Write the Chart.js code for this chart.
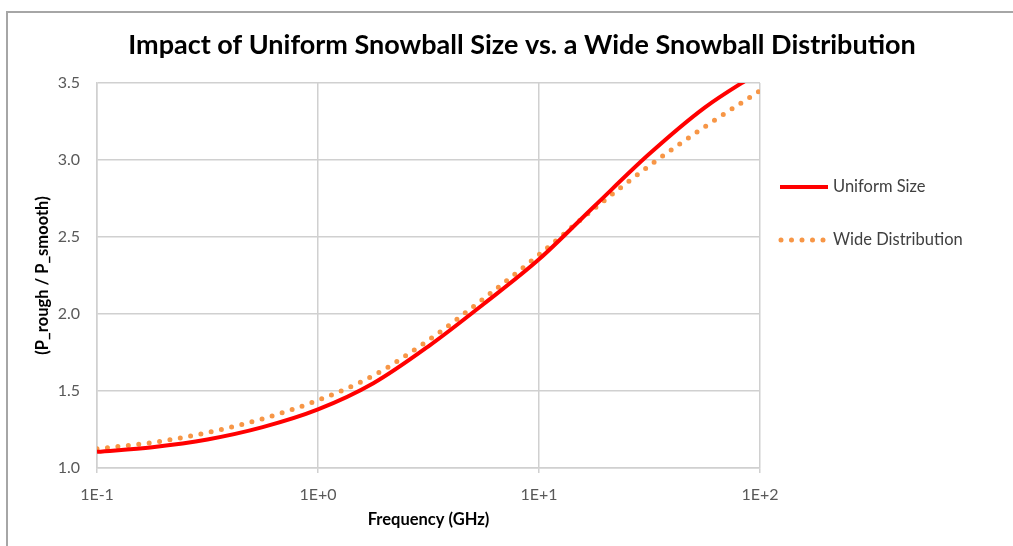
<!DOCTYPE html>
<html>
<head>
<meta charset="utf-8">
<script src="https://cdn.jsdelivr.net/npm/chart.js@4"></script>
<style>
  html, body { margin: 0; padding: 0; background: #fff; overflow: hidden; }
  #wrap { position: relative; width: 1013px; height: 546px; }
  #frame { position: absolute; left: 6px; top: 11px; right: -10px; bottom: -10px;
           border-top: 2px solid #a6a6a6; border-left: 2px solid #a6a6a6; }
  canvas { position: absolute; left: 0; top: 0; }
</style>
</head>
<body>
<div id="wrap">
  <div id="frame"></div>
  <canvas id="chart" width="1013" height="546"></canvas>
</div>
<script>
const chartTitle = "Impact of Uniform Snowball Size vs. a Wide Snowball Distribution";
const xTitle = "Frequency (GHz)";
const yTitle = "(P_rough / P_smooth)";

// frequency in GHz, quarter-decade steps on the log axis
const frequency = [0.1, 0.178, 0.316, 0.562, 1, 1.78, 3.16, 5.62, 10, 17.8, 31.6, 56.2, 100];
const uniformSize = [1.105, 1.135, 1.185, 1.265, 1.38, 1.55, 1.79, 2.065, 2.355, 2.70, 3.04, 3.34, 3.575];
const wideDistribution = [1.125, 1.165, 1.23, 1.32, 1.44, 1.60, 1.83, 2.10, 2.385, 2.685, 2.963, 3.215, 3.45];

const xTicks = [0.1, 1, 10, 100];
const xTickLabels = ["1E-1", "1E+0", "1E+1", "1E+2"];

const font = "Lato, 'Open Sans', sans-serif";
const gridColor = "#d0d0d0";

// title and legend drawn at fixed spots like the original layout
const decor = {
  id: "decor",
  afterDraw(chart) {
    const ctx = chart.ctx;
    ctx.save();
    ctx.fillStyle = "#000";
    ctx.font = "bold 27px " + font;
    ctx.textAlign = "center";
    ctx.textBaseline = "middle";
    ctx.fillText(chartTitle, 522, 45);

    ctx.font = "16.5px " + font;
    ctx.textAlign = "left";
    chart.data.datasets.forEach((ds, i) => {
      const y = 187 + i * 53;
      ctx.save();
      ctx.strokeStyle = ds.borderColor;
      ctx.lineWidth = ds.borderWidth;
      ctx.lineCap = ds.borderCapStyle || "butt";
      ctx.setLineDash(ds.borderDash || []);
      ctx.beginPath();
      ctx.moveTo(ds.borderDash ? 781 : 780, y);
      ctx.lineTo(828, y);
      ctx.stroke();
      ctx.restore();
      ctx.fillStyle = "#404040";
      ctx.fillText(ds.label, 833, y);
    });
    ctx.restore();
  }
};

new Chart(document.getElementById("chart"), {
  type: "line",
  data: {
    datasets: [
      {
        label: "Uniform Size",
        data: frequency.map((f, i) => ({ x: f, y: uniformSize[i] })),
        borderColor: "#ff0000",
        borderWidth: 4,
        pointRadius: 0,
        cubicInterpolationMode: "monotone"
      },
      {
        label: "Wide Distribution",
        data: frequency.map((f, i) => ({ x: f, y: wideDistribution[i] })),
        borderColor: "#f79646",
        borderWidth: 5,
        borderDash: [0, 10.5],
        borderCapStyle: "round",
        pointRadius: 0,
        cubicInterpolationMode: "monotone"
      }
    ]
  },
  options: {
    responsive: false,
    animation: false,
    layout: { padding: { left: 7, top: 83, right: 253, bottom: 0 } },
    plugins: {
      legend: { display: false },
      title: { display: false },
      tooltip: { enabled: false }
    },
    scales: {
      x: {
        type: "logarithmic",
        min: 0.1,
        max: 100,
        afterBuildTicks: axis => { axis.ticks = xTicks.map(v => ({ value: v })); },
        afterFit: axis => { axis.height = 78; },
        ticks: {
          autoSkip: false,
          maxRotation: 0,
          padding: 12,
          color: "#595959",
          font: { family: font, size: 16 },
          callback: (v) => xTickLabels[xTicks.indexOf(v)]
        },
        grid: { color: gridColor, lineWidth: 1.5, tickLength: 5 },
        border: { color: gridColor, width: 1.5 },
        title: {
          display: true,
          text: xTitle,
          color: "#000",
          font: { family: font, size: 16.5, weight: "bold" },
          padding: { top: 0, bottom: 16 }
        }
      },
      y: {
        min: 1.0,
        max: 3.5,
        afterFit: axis => { axis.width = 90; },
        ticks: {
          stepSize: 0.5,
          padding: 17,
          color: "#595959",
          font: { family: font, size: 16 },
          callback: v => Number(v).toFixed(1)
        },
        grid: { color: gridColor, lineWidth: 1.5, drawTicks: false },
        border: { color: gridColor, width: 1.5 },
        title: {
          display: true,
          text: yTitle,
          color: "#000",
          font: { family: font, size: 16.5, weight: "bold" },
          padding: { top: 26, bottom: 0 }
        }
      }
    }
  },
  plugins: [decor]
});
</script>
</body>
</html>
